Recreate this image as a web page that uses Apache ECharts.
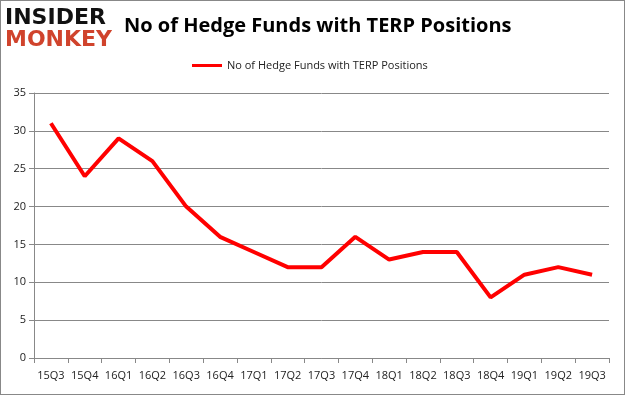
<!DOCTYPE html>
<html><head><meta charset="utf-8">
<script src="https://cdn.jsdelivr.net/npm/echarts@6/dist/echarts.min.js"></script>
<style>html,body{margin:0;padding:0;background:#fff}#c{width:625px;height:395px;box-sizing:border-box;border:1px solid #888}</style>
</head><body><div id="c"></div>
<script>
const categories = ['15Q3','15Q4','16Q1','16Q2','16Q3','16Q4','17Q1','17Q2','17Q3','17Q4','18Q1','18Q2','18Q3','18Q4','19Q1','19Q2','19Q3'];
const values = [31,24,29,26,20,16,14,12,12,16,13,14,14,8,11,12,11];
const seriesName = 'No of Hedge Funds with TERP Positions';
const titleText = 'No of Hedge Funds with TERP Positions';

const chart = echarts.init(document.getElementById('c'));
chart.setOption({
  animation:false,
  title:{text:titleText,left:118,top:10,textStyle:{fontFamily:'Open Sans, sans-serif',fontSize:20,fontWeight:'bold',color:'#000'}},
  graphic:[
    {type:'text',left:4,top:6,style:{text:'INSIDER',font:'bold 22px "DejaVu Sans", sans-serif',fill:'#111'}},
    {type:'text',left:4,top:28,style:{text:'MONKEY',font:'bold 22px "DejaVu Sans", sans-serif',fill:'#d0432c'}}
  ],
  legend:{top:54,left:186,itemWidth:30,itemHeight:3,icon:'rect',data:[seriesName],
    textStyle:{fontFamily:'Open Sans, sans-serif',fontSize:11,color:'#222'}},
  grid:{left:33,right:15,top:92,bottom:36,containLabel:false},
  xAxis:{type:'category',data:categories,boundaryGap:true,
    axisLine:{lineStyle:{color:'#888'}},axisTick:{show:true,alignWithLabel:false,lineStyle:{color:'#888'}},
    axisLabel:{color:'#222',fontFamily:'Open Sans, sans-serif',fontSize:11,interval:0,margin:12}},
  yAxis:{type:'value',min:0,max:35,interval:5,
    axisLine:{show:true,lineStyle:{color:'#888'}},axisTick:{show:true,lineStyle:{color:'#888'}},
    splitLine:{lineStyle:{color:'#888'}},
    axisLabel:{color:'#222',fontFamily:'Open Sans, sans-serif',fontSize:11,margin:8}},
  series:[{name:seriesName,type:'line',data:values,symbol:'none',lineStyle:{color:'#ff0000',width:4},itemStyle:{color:'#ff0000'}}]
});
</script></body></html>
